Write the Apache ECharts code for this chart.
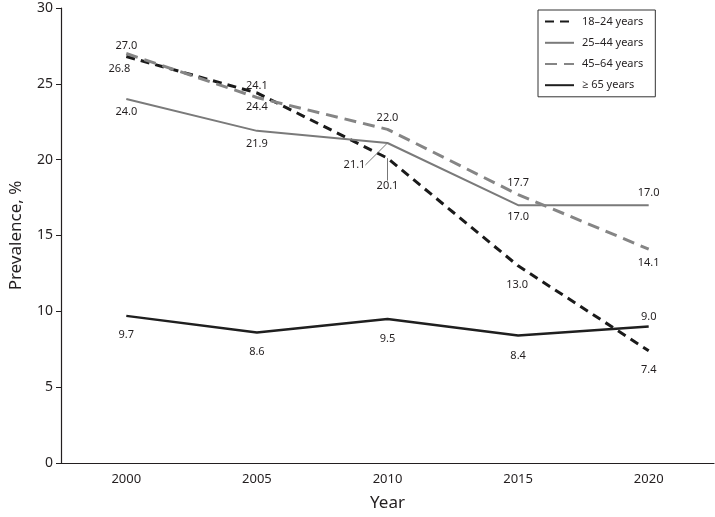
<!DOCTYPE html>
<html>
<head>
<meta charset="utf-8">
<script src="https://cdn.jsdelivr.net/npm/echarts@6/dist/echarts.min.js"></script>
<style>html,body{margin:0;padding:0;background:#fff}#c{width:715px;height:517px}</style>
</head>
<body>
<div id="c"></div>
<script>
const years = ['2000', '2005', '2010', '2015', '2020'];
const age18to24 = [26.8, 24.4, 20.1, 13.0, 7.4];
const age25to44 = [24.0, 21.9, 21.1, 17.0, 17.0];
const age45to64 = [27.0, 24.1, 22.0, 17.7, 14.1];
const age65plus = [9.7, 8.6, 9.5, 8.4, 9.0];
const seriesNames = ['18–24 years', '25–44 years', '45–64 years', '≥ 65 years'];
const yTicks = [0, 5, 10, 15, 20, 25, 30];

// label placement (dx, dy from point, px) — styling only
const labelOffsets = [
  [[-7, 12], [0, 14], [0, 28], [-1, 19], [0, 19]],
  [[0, 13], [0, 13], [-33, 22], [0, 12], [0, -12]],
  [[0, -8], [0, -12], [0, -11], [0, -12], [0, 14]],
  [[0, 19], [0, 19], [0, 20], [0, 20], [0, -10]]
];
const leader = [[false, false, true, false, false], [false, false, true, false, false], [false,false,false,false,false], [false,false,false,false,false]];

const font = '"Noto Sans", "Open Sans", sans-serif';
const textColor = '#231f20';

function mk(idx, values, color, width, type) {
  return {
    name: seriesNames[idx],
    type: 'line',
    data: values.map((v, i) => ({ value: v, labelLine: { show: leader[idx][i], lineStyle: { color: '#777', width: 1 } } })),
    symbol: 'circle',
    symbolSize: 0.01,
    showSymbol: true,
    lineStyle: { color: color, width: width, type: type, cap: 'butt', join: 'round' },
    itemStyle: { color: color },
    label: {
      show: true, position: 'inside', formatter: p => p.value.toFixed(1),
      fontFamily: font, fontSize: 11, color: textColor
    },
    labelLine: { show: false, lineStyle: { color: '#777', width: 1 } },
    labelLayout: p => ({ dx: labelOffsets[idx][p.dataIndex][0], dy: labelOffsets[idx][p.dataIndex][1] }),
    emphasis: { disabled: true },
    animation: false,
    z: 2 + idx
  };
}

const chart = echarts.init(document.getElementById('c'), null, { renderer: 'canvas' });
chart.setOption({
  backgroundColor: '#fff',
  animation: false,
  grid: { left: 58, right: 1, top: 8, bottom: 52, containLabel: false },
  legend: {
    orient: 'vertical', left: 538, top: 10,
    padding: [6, 12, 6, 6], itemGap: 10, itemWidth: 29, itemHeight: 14,
    borderColor: '#333', borderWidth: 1, backgroundColor: '#fff',
    itemStyle: { opacity: 0, color: 'rgba(0,0,0,0)', borderWidth: 0 },
    textStyle: { fontFamily: font, fontSize: 11, color: textColor, padding: [0, 0, 0, 3] },
    data: seriesNames
  },
  xAxis: {
    type: 'category', data: years, boundaryGap: true,
    name: 'Year', nameLocation: 'middle', nameGap: 32,
    nameTextStyle: { fontFamily: font, fontSize: 17, color: textColor },
    axisLine: { lineStyle: { color: '#231f20', width: 1.2 } },
    axisTick: { alignWithLabel: true, length: 5, lineStyle: { color: '#231f20' } },
    axisLabel: { fontFamily: font, fontSize: 13, color: textColor, margin: 10 }
  },
  yAxis: {
    type: 'value', min: yTicks[0], max: yTicks[yTicks.length - 1], interval: 5,
    name: 'Prevalence, %', nameLocation: 'middle', nameGap: 36,
    nameTextStyle: { fontFamily: font, fontSize: 17, color: textColor },
    axisLine: { show: true, lineStyle: { color: '#231f20', width: 1.2 } },
    axisTick: { show: true, length: 5, lineStyle: { color: '#231f20' } },
    axisLabel: { fontFamily: font, fontSize: 14, color: textColor, margin: 8 },
    splitLine: { show: false }
  },
  series: [
    mk(0, age18to24, '#1a1a1a', 3, [9, 6]),
    mk(1, age25to44, '#7a7a7a', 2, 'solid'),
    mk(2, age45to64, '#858585', 3, [12, 7]),
    mk(3, age65plus, '#1f1f1f', 2.5, 'solid')
  ]
});
</script>
</body>
</html>
